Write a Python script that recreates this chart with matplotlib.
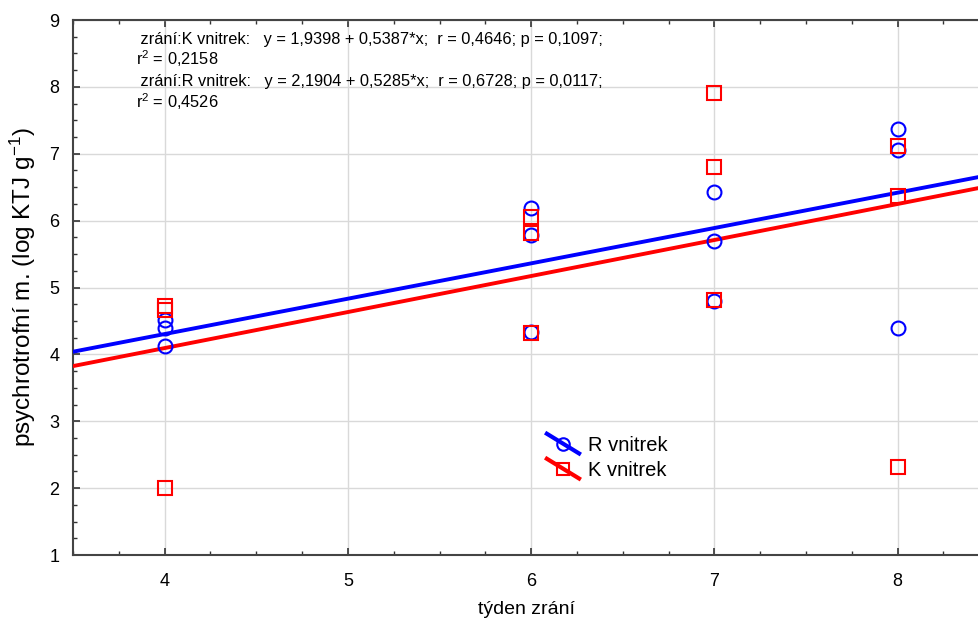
import matplotlib
matplotlib.use("Agg")
import matplotlib.pyplot as plt
from matplotlib.lines import Line2D
from matplotlib.legend_handler import HandlerBase
from matplotlib.ticker import MultipleLocator
import numpy as np

plt.rcParams['font.family'] = ['Liberation Sans', 'DejaVu Sans']
plt.rcParams['mathtext.default'] = 'regular'

# week of ripening
weeks_r = [4, 4, 4, 6, 6, 6, 7, 7, 7, 8, 8, 8]
r_vnitrek = [4.51, 4.39, 4.12, 6.19, 5.78, 4.33, 6.43, 5.70, 4.80, 7.37, 7.06, 4.39]
weeks_k = [4, 4, 4, 6, 6, 6, 7, 7, 7, 8, 8, 8]
k_vnitrek = [4.72, 4.66, 2.00, 6.05, 5.81, 4.32, 7.91, 6.80, 4.81, 7.12, 6.37, 2.32]

# regression coefficients (intercept, slope)
fit_r = (2.1904, 0.5285)
fit_k = (1.9398, 0.5387)

annot_lines = [
    " zrání:K vnitrek:   y = 1,9398 + 0,5387*x;  r = 0,4646; p = 0,1097;",
    "r$^2$ = 0,2158",
    " zrání:R vnitrek:   y = 2,1904 + 0,5285*x;  r = 0,6728; p = 0,0117;",
    "r$^2$ = 0,4526",
]
annot_y = [0.955, 0.9159, 0.876, 0.8355]

blue = "#0000ff"
red = "#ff0000"


class DiagHandler(HandlerBase):
    def create_artists(self, legend, orig, xdescent, ydescent, width, height, fontsize, trans):
        x0, x1 = -xdescent, -xdescent + width
        y0, y1 = -ydescent - 0.2 * height, -ydescent + 1.2 * height
        line = Line2D([x0, x1], [y1, y0], color=orig.get_color(), lw=3, transform=trans)
        mk = Line2D([(x0 + x1) / 2], [(y0 + y1) / 2], marker=orig.get_marker(),
                    ls="none", mfc="none", mec=orig.get_color(), mew=1.5,
                    ms=9, transform=trans)
        return [line, mk]


fig = plt.figure(figsize=(9.79, 6.26), dpi=100)
ax = fig.add_axes([0.0746, 0.1134, 0.9254, 0.8546])

xs = np.array([3.5, 8.6])
ax.plot(xs, fit_r[0] + fit_r[1] * xs, color=blue, lw=2.8, zorder=3)
ax.plot(xs, fit_k[0] + fit_k[1] * xs, color=red, lw=2.8, zorder=3)

ax.plot(weeks_r, r_vnitrek, ls="none", marker="o", ms=10, mfc="none", mec=blue, mew=1.5, zorder=4)
ax.plot(weeks_k, k_vnitrek, ls="none", marker="s", ms=10, mfc="none", mec=red, mew=1.5, zorder=4)

ax.set_xlim(3.5, 8.444)
ax.set_ylim(1, 9)
ax.set_xticks([4, 5, 6, 7, 8])
ax.set_yticks(range(1, 10))
ax.xaxis.set_minor_locator(MultipleLocator(0.25))
ax.yaxis.set_minor_locator(MultipleLocator(0.25))
ax.tick_params(which="both", direction="in", top=True, right=False, labelsize=13, color="#333333")
ax.tick_params(which="major", length=5, width=1.2)
ax.tick_params(which="minor", length=3, width=1)
ax.tick_params(axis="x", pad=13)
ax.tick_params(axis="y", pad=10)
ax.grid(True, which="major", color="#d9d9d9", lw=1)
ax.set_axisbelow(True)
for side in ["top", "bottom", "left"]:
    ax.spines[side].set_color("#444444")
    ax.spines[side].set_linewidth(1.5)
ax.spines["right"].set_visible(False)

ax.set_xlabel("týden zrání", fontsize=14, labelpad=8)
ax.set_ylabel("psychrotrofní m. (log KTJ g$^{-1}$)", fontsize=17.5, labelpad=8)

for t, yy in zip(annot_lines, annot_y):
    ax.text(0.069, yy, t, transform=ax.transAxes, fontsize=11.8,
            va="baseline", ha="left")

h_r = Line2D([], [], color=blue, marker="o")
h_k = Line2D([], [], color=red, marker="s")
leg = ax.legend([h_r, h_k], ["R vnitrek", "K vnitrek"], handler_map={Line2D: DiagHandler()},
                loc="upper left", bbox_to_anchor=(0.503, 0.257), frameon=False,
                fontsize=14.5, handlelength=1.6, handletextpad=0.45, labelspacing=0.3)

fig.savefig("out.png", dpi=100)
